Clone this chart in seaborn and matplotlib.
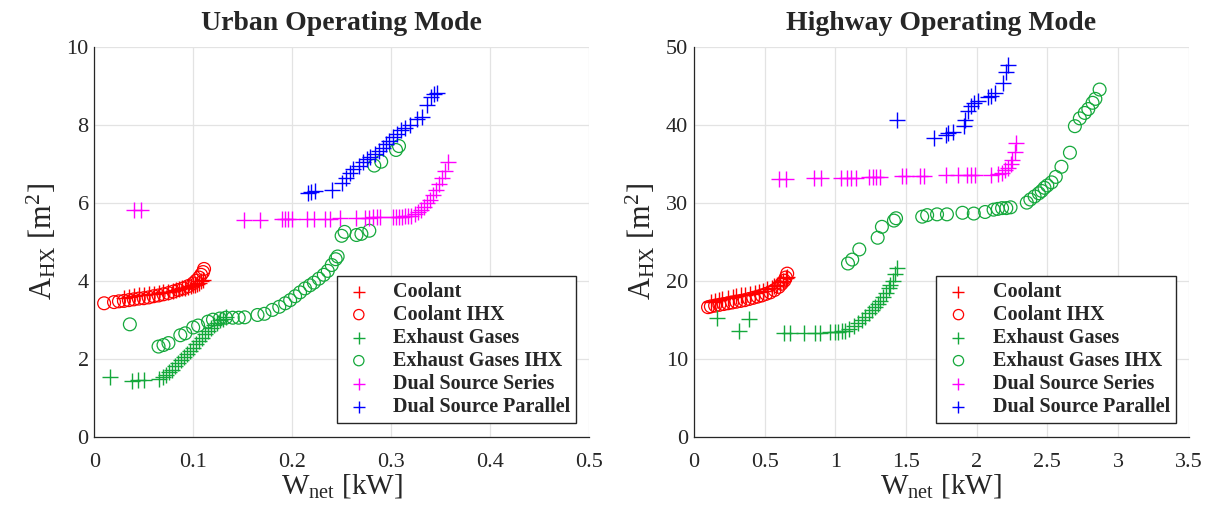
import numpy as np
import pandas as pd
import matplotlib
matplotlib.use('Agg')
import matplotlib.pyplot as plt
import seaborn as sns


# ---- Urban operating mode ----
urb_cool_x = [0.03, 0.035, 0.04, 0.045, 0.05, 0.055, 0.06, 0.065, 0.07, 0.075, 0.08, 0.083,
              0.086, 0.089, 0.092, 0.095, 0.098, 0.1, 0.102, 0.104, 0.106, 0.108, 0.11]
urb_cool_y = [3.55, 3.58, 3.6, 3.62, 3.63, 3.65, 3.67, 3.68, 3.7, 3.72, 3.74, 3.76,
              3.78, 3.8, 3.82, 3.84, 3.86, 3.88, 3.9, 3.92, 3.95, 3.98, 4.02]
urb_cool_ihx_x = [0.01, 0.02, 0.025, 0.03, 0.035, 0.04, 0.045, 0.05, 0.055, 0.06, 0.065, 0.07,
                  0.075, 0.08, 0.085, 0.09, 0.095, 0.1, 0.103, 0.106, 0.108, 0.11, 0.111]
urb_cool_ihx_y = [3.42, 3.45, 3.47, 3.48, 3.5, 3.52, 3.54, 3.55, 3.57, 3.6, 3.62, 3.65,
                  3.68, 3.72, 3.76, 3.8, 3.86, 3.93, 4.0, 4.08, 4.15, 4.22, 4.3]
urb_exh_x = [0.016, 0.038, 0.044, 0.05, 0.065, 0.07, 0.073, 0.076, 0.079, 0.082, 0.085, 0.088,
             0.091, 0.094, 0.097, 0.1, 0.103, 0.106, 0.109, 0.112, 0.115, 0.118, 0.121,
             0.124, 0.127, 0.13, 0.133]
urb_exh_y = [1.52, 1.44, 1.45, 1.46, 1.48, 1.52, 1.58, 1.65, 1.72, 1.8, 1.88, 1.96,
             2.04, 2.12, 2.2, 2.28, 2.37, 2.45, 2.54, 2.62, 2.7, 2.78, 2.86,
             2.92, 2.98, 3.02, 3.08]
urb_exh_ihx_x = [0.036, 0.065, 0.07, 0.075, 0.087, 0.092, 0.1, 0.105, 0.115, 0.12, 0.127, 0.133,
                 0.14, 0.146, 0.152, 0.165, 0.172, 0.18, 0.187, 0.193, 0.198, 0.203, 0.208,
                 0.213, 0.218, 0.222, 0.227, 0.232, 0.236, 0.24, 0.244, 0.246, 0.25, 0.253,
                 0.265, 0.27, 0.278, 0.283, 0.29, 0.305, 0.308]
urb_exh_ihx_y = [2.88, 2.31, 2.35, 2.4, 2.6, 2.65, 2.8, 2.85, 2.95, 3.0, 3.03, 3.05,
                 3.05, 3.05, 3.06, 3.12, 3.15, 3.25, 3.33, 3.42, 3.5, 3.6, 3.7,
                 3.8, 3.88, 3.95, 4.05, 4.15, 4.25, 4.4, 4.55, 4.62, 5.15, 5.25,
                 5.17, 5.2, 5.28, 6.95, 7.05, 7.35, 7.45]
urb_series_x = [0.04, 0.047, 0.151, 0.168, 0.19, 0.193, 0.196, 0.2, 0.215, 0.222, 0.233, 0.238,
                0.248, 0.265, 0.274, 0.278, 0.282, 0.286, 0.289, 0.302, 0.305, 0.308, 0.311,
                0.314, 0.317, 0.32, 0.324, 0.327, 0.33, 0.333, 0.336, 0.339, 0.342, 0.345,
                0.348, 0.351, 0.354, 0.358]
urb_series_y = [5.8, 5.8, 5.56, 5.56, 5.57, 5.57, 5.57, 5.58, 5.58, 5.58, 5.59, 5.59,
                5.6, 5.6, 5.61, 5.61, 5.62, 5.62, 5.62, 5.63, 5.63, 5.64, 5.64,
                5.65, 5.66, 5.67, 5.72, 5.76, 5.82, 5.9, 5.98, 6.08, 6.2, 6.32,
                6.48, 6.62, 6.8, 7.05]
urb_par_x = [0.216, 0.219, 0.223, 0.24, 0.25, 0.254, 0.258, 0.262, 0.268, 0.272, 0.276, 0.279,
             0.284, 0.288, 0.292, 0.295, 0.298, 0.302, 0.306, 0.31, 0.314, 0.319, 0.326,
             0.331, 0.336, 0.34, 0.343, 0.346]
urb_par_y = [6.26, 6.28, 6.3, 6.32, 6.5, 6.62, 6.75, 6.85, 6.95, 7.05, 7.12, 7.18,
             7.25, 7.32, 7.4, 7.5, 7.58, 7.68, 7.75, 7.85, 7.92, 8.0, 8.15,
             8.2, 8.5, 8.7, 8.78, 8.8]

# ---- Highway operating mode ----
hwy_cool_x = [0.12, 0.15, 0.18, 0.2, 0.24, 0.28, 0.3, 0.33, 0.36, 0.4, 0.43, 0.46,
              0.49, 0.52, 0.55, 0.57, 0.59, 0.61, 0.63, 0.65, 0.66]
hwy_cool_y = [17.2, 17.4, 17.5, 17.7, 17.8, 17.9, 18.0, 18.1, 18.2, 18.3, 18.4, 18.5,
              18.7, 18.9, 19.1, 19.3, 19.5, 19.8, 20.0, 20.3, 20.5]
hwy_cool_ihx_x = [0.1, 0.12, 0.15, 0.18, 0.21, 0.24, 0.27, 0.3, 0.33, 0.36, 0.39, 0.42,
                  0.45, 0.48, 0.51, 0.54, 0.57, 0.6, 0.62, 0.64, 0.65, 0.66]
hwy_cool_ihx_y = [16.6, 16.7, 16.8, 16.9, 17.0, 17.1, 17.2, 17.3, 17.4, 17.5, 17.65, 17.8,
                  17.95, 18.1, 18.3, 18.5, 18.8, 19.2, 19.6, 20.0, 20.4, 20.9]
hwy_exh_x = [0.16, 0.32, 0.39, 0.64, 0.68, 0.78, 0.86, 0.89, 0.96, 1.0, 1.02, 1.05,
             1.07, 1.1, 1.13, 1.16, 1.19, 1.21, 1.24, 1.26, 1.28, 1.3, 1.32, 1.34,
             1.36, 1.38, 1.39, 1.41, 1.42, 1.44]
hwy_exh_y = [15.2, 13.5, 15.1, 13.3, 13.3, 13.3, 13.3, 13.35, 13.4, 13.4, 13.45, 13.5,
             13.6, 13.8, 14.2, 14.6, 15.0, 15.4, 15.8, 16.2, 16.6, 17.0, 17.4, 17.9,
             18.4, 19.0, 19.5, 20.0, 20.8, 21.6]
hwy_exh_ihx_x = [1.09, 1.12, 1.17, 1.3, 1.33, 1.415, 1.43, 1.615, 1.65, 1.72, 1.79, 1.9,
                 1.98, 2.06, 2.12, 2.15, 2.18, 2.21, 2.24, 2.355, 2.38, 2.41, 2.44, 2.46,
                 2.48, 2.5, 2.53, 2.56, 2.6, 2.66, 2.695, 2.73, 2.765, 2.79, 2.82, 2.84, 2.87]
hwy_exh_ihx_y = [22.2, 22.7, 24.0, 25.5, 26.9, 27.7, 28.0, 28.2, 28.4, 28.5, 28.5, 28.7,
                 28.6, 28.8, 29.1, 29.2, 29.3, 29.3, 29.4, 30.0, 30.4, 30.8, 31.2, 31.5,
                 31.9, 32.2, 32.6, 33.3, 34.6, 36.4, 39.8, 40.8, 41.5, 42.0, 42.8, 43.3, 44.5]
hwy_series_x = [0.6, 0.65, 0.85, 0.9, 1.04, 1.08, 1.11, 1.15, 1.24, 1.27, 1.29, 1.32,
                1.47, 1.5, 1.6, 1.63, 1.78, 1.87, 1.93, 1.96, 1.99, 2.1, 2.15, 2.18,
                2.2, 2.22, 2.24, 2.25, 2.27, 2.28]
hwy_series_y = [33.0, 33.0, 33.1, 33.1, 33.2, 33.2, 33.2, 33.2, 33.3, 33.3, 33.3, 33.3,
                33.4, 33.4, 33.4, 33.4, 33.5, 33.5, 33.5, 33.5, 33.5, 33.6, 33.7, 33.8,
                34.2, 34.5, 34.9, 35.5, 36.5, 37.7]
hwy_par_x = [1.44, 1.7, 1.78, 1.8, 1.83, 1.91, 1.92, 1.94, 1.96, 1.98, 2.01, 2.08,
             2.1, 2.13, 2.19, 2.21, 2.22]
hwy_par_y = [40.6, 38.3, 38.7, 38.9, 39.0, 39.8, 40.6, 41.8, 42.4, 42.8, 43.0, 43.5,
             43.7, 44.0, 45.3, 46.8, 47.6]

SERIES = ['Coolant', 'Coolant IHX', 'Exhaust Gases', 'Exhaust Gases IHX',
          'Dual Source Series', 'Dual Source Parallel']
COLORS = ['#ff0000', '#ff0000', '#14a83b', '#14a83b', '#ff00ff', '#0000ff']
MARKERS = ['+', 'o', '+', 'o', '+', '+']

urban = [(urb_cool_x, urb_cool_y), (urb_cool_ihx_x, urb_cool_ihx_y),
         (urb_exh_x, urb_exh_y), (urb_exh_ihx_x, urb_exh_ihx_y),
         (urb_series_x, urb_series_y), (urb_par_x, urb_par_y)]
highway = [(hwy_cool_x, hwy_cool_y), (hwy_cool_ihx_x, hwy_cool_ihx_y),
           (hwy_exh_x, hwy_exh_y), (hwy_exh_ihx_x, hwy_exh_ihx_y),
           (hwy_series_x, hwy_series_y), (hwy_par_x, hwy_par_y)]

sns.set_style('whitegrid')
plt.rcParams['font.family'] = ['Liberation Serif', 'DejaVu Serif']
plt.rcParams['mathtext.fontset'] = 'custom'
plt.rcParams['mathtext.rm'] = 'Liberation Serif'
plt.rcParams['mathtext.it'] = 'Liberation Serif:italic'


def draw_panel(ax, data, title, xlim, xticks, ylim, yticks):
    for (x, y), name, col, mk in zip(data, SERIES, COLORS, MARKERS):
        df = pd.DataFrame({'x': x, 'y': y})
        if mk == 'o':
            sns.scatterplot(data=df, x='x', y='y', ax=ax, marker='o', s=85,
                            facecolors='none', edgecolor=col, linewidth=0.9,
                            label=name)
        else:
            sns.scatterplot(data=df, x='x', y='y', ax=ax, marker='+', s=120,
                            color=col, linewidth=1.0, label=name)
    ax.set_xlim(*xlim)
    ax.set_ylim(*ylim)
    ax.set_xticks(xticks)
    ax.set_yticks(yticks)
    ax.set_xticklabels([f'{t:g}' for t in xticks])
    ax.set_title(title, fontsize=20, fontweight='bold', pad=12)
    ax.set_xlabel(r'W$_{\mathrm{net}}$ [kW]', fontsize=21, labelpad=0)
    ax.set_ylabel(r'A$_{\mathrm{HX}}$ [m$^2$]', fontsize=22, labelpad=6)
    ax.grid(True, color='#e3e3e3', linewidth=0.9)
    ax.tick_params(axis='both', direction='in', length=5, width=0.8,
                   labelsize=16, colors='#262626')
    ax.tick_params(axis='x', pad=12)
    ax.tick_params(axis='y', pad=4)
    for side in ['top', 'right']:
        ax.spines[side].set_visible(False)
    for side in ['left', 'bottom']:
        ax.spines[side].set_color('#262626')
        ax.spines[side].set_linewidth(0.9)
    leg = ax.legend(loc='lower left', bbox_to_anchor=(0.49, 0.035),
                    frameon=True, fancybox=False, framealpha=1,
                    prop={'weight': 'bold', 'size': 14.5},
                    handletextpad=0.9, borderpad=0.3, labelspacing=0.15,
                    handlelength=1.6, borderaxespad=0, markerscale=0.8)
    leg.get_frame().set_edgecolor('#262626')
    leg.get_frame().set_linewidth(1.0)


fig, axes = plt.subplots(1, 2, figsize=(12.08, 5.18), dpi=100)
fig.subplots_adjust(left=0.078, right=0.984, bottom=0.157, top=0.91, wspace=0.212)

draw_panel(axes[0], urban, 'Urban Operating Mode',
           (0, 0.5), [0, 0.1, 0.2, 0.3, 0.4, 0.5], (0, 10), [0, 2, 4, 6, 8, 10])
draw_panel(axes[1], highway, 'Highway Operating Mode',
           (0, 3.5), [0, 0.5, 1, 1.5, 2, 2.5, 3, 3.5], (0, 50), [0, 10, 20, 30, 40, 50])

fig.savefig('out.png', dpi=100)
